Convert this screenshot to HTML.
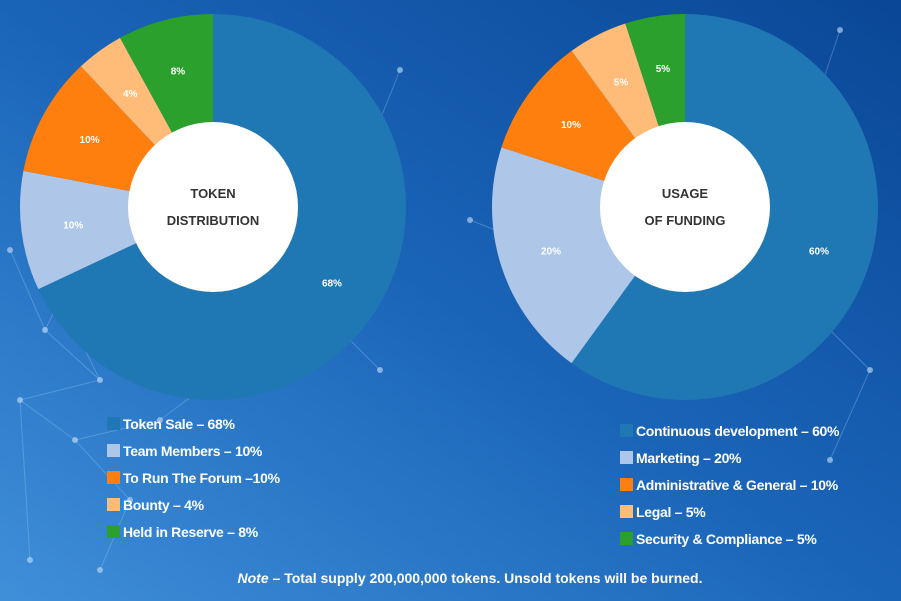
<!DOCTYPE html>
<html><head><meta charset="utf-8"><style>
body{margin:0;width:901px;height:601px;overflow:hidden;font-family:"Liberation Sans Narrow","Liberation Sans",sans-serif}
svg{display:block}
</style></head><body>
<svg id="c" width="901" height="601">
<defs><linearGradient id="bg" x1="0" y1="1" x2="1" y2="0">
<stop offset="0" stop-color="#3f8fd9"/><stop offset="0.5" stop-color="#1a64b8"/><stop offset="1" stop-color="#0a4796"/></linearGradient></defs>
<rect width="901" height="601" fill="url(#bg)"/>
<g id="net" stroke="#9cc6f0" stroke-opacity="0.35" stroke-width="1" fill="#c8e0f8" fill-opacity="0.6"></g>
<g id="pies"></g>
<text x="470" y="583" text-anchor="middle" fill="#fff" font-size="14" font-weight="bold"><tspan font-style="italic">Note</tspan> – Total supply 200,000,000 tokens. Unsold tokens will be burned.</text>
</svg>
<script>
const colors=["#1f77b4","#aec7e8","#ff7f0e","#ffbb78","#2ca02c"];
const leftLabels=["Token Sale – 68%","Team Members – 10%","To Run The Forum –10%","Bounty – 4%","Held in Reserve – 8%"];
const leftValues=[68,10,10,4,8];
const rightLabels=["Continuous development – 60%","Marketing – 20%","Administrative & General – 10%","Legal – 5%","Security & Compliance – 5%"];
const rightValues=[60,20,10,5,5];
const NS="http://www.w3.org/2000/svg";
const svg=document.getElementById('pies');
function mk(t,a,p){const e=document.createElementNS(NS,t);for(const k in a)e.setAttribute(k,a[k]);(p||svg).appendChild(e);return e;}
const net=document.getElementById('net');
const pts=[[10,250],[45,330],[100,380],[20,400],[75,440],[160,420],[240,360],[300,320],[340,330],[380,370],[470,220],[520,240],[560,270],[770,270],[820,160],[870,370],[840,210],[400,70],[840,30],[830,460],[820,90],[60,300],[130,500],[100,570],[30,560]];
const links=[[0,1],[1,2],[2,3],[3,4],[4,5],[5,6],[6,7],[7,8],[8,9],[10,11],[11,12],[13,15],[14,16],[17,7],[18,20],[19,15],[21,1],[22,4],[23,22],[24,3],[16,13],[2,21]];
links.forEach(l=>{const e=mk('line',{x1:pts[l[0]][0],y1:pts[l[0]][1],x2:pts[l[1]][0],y2:pts[l[1]][1]},net);});
pts.forEach(p=>{const e=mk('circle',{cx:p[0],cy:p[1],r:3,stroke:'none'},net);});
function pie(cx,cy,r,hr,vals,t1,t2,labels,lx,ly,name){
  const g=mk('g',{});
  const tot=vals.reduce((a,b)=>a+b,0);let a0=0;
  vals.forEach((v,i)=>{
    const a1=a0+v/tot*2*Math.PI;
    const x0=cx+r*Math.sin(a0),y0=cy-r*Math.cos(a0),x1=cx+r*Math.sin(a1),y1=cy-r*Math.cos(a1);
    const s=mk('path',{d:`M${cx},${cy}L${x0},${y0}A${r},${r} 0 ${a1-a0>Math.PI?1:0} 1 ${x1},${y1}Z`,fill:colors[i]},g);
    
    const am=(a0+a1)/2,lr=r*0.73;
    const t=mk('text',{x:cx+lr*Math.sin(am),y:cy-lr*Math.cos(am)+4,'text-anchor':'middle',fill:'#fff','font-size':10,'font-weight':'bold'},g);
    t.textContent=v+'%';
    a0=a1;
  });
  const h=mk('circle',{cx,cy,r:hr,fill:'#fff'},g);
  [t1,t2].forEach((s,j)=>{const t=mk('text',{x:cx,y:cy-9+j*27,'text-anchor':'middle',fill:'#333','font-size':13,'font-weight':'bold'},g);t.textContent=s;});
  labels.forEach((s,i)=>{
    const q=mk('rect',{x:lx,y:ly+i*27-6,width:13,height:13,fill:colors[i]},g);
    const t=mk('text',{x:lx+16,y:ly+i*27+6,fill:'#fff','font-size':14,'font-weight':'bold','letter-spacing':-0.3},g);t.textContent=s;
  });
}
pie(213,207,193,85,leftValues,"TOKEN","DISTRIBUTION",leftLabels,107,423,'token-distribution-pie');
pie(685,207,193,85,rightValues,"USAGE","OF FUNDING",rightLabels,620,430,'usage-of-funding-pie');
</script>
</body></html>
